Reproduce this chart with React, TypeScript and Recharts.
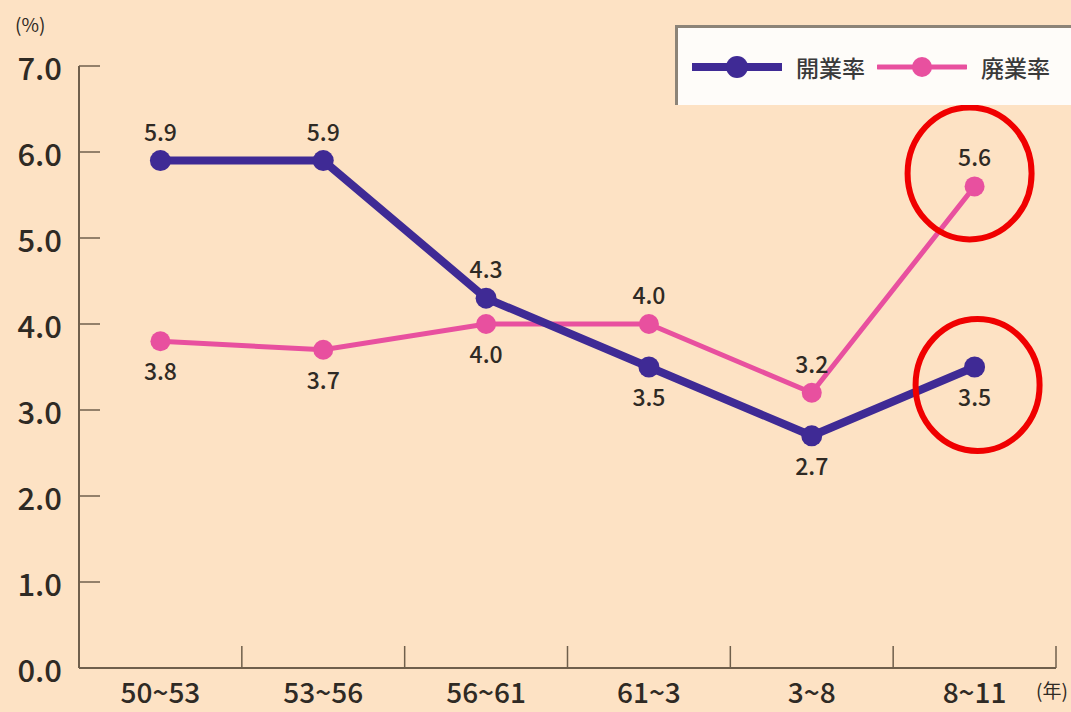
import { LineChart, Line, XAxis, YAxis, ReferenceDot } from 'recharts'

const periods = ['50~53', '53~56', '56~61', '61~3', '3~8', '8~11']
const openRate = [5.9, 5.9, 4.3, 3.5, 2.7, 3.5]
const closeRate = [3.8, 3.7, 4.0, 4.0, 3.2, 5.6]
const yTicks = [0, 1, 2, 3, 4, 5, 6, 7]
// true = value label sits above the point
const openAbove = [true, true, true, false, false, false]
const closeAbove = [false, false, false, true, true, true]

const data = periods.map((p, i) => ({ period: p, open: openRate[i], close: closeRate[i] }))

const W = 1071
const H = 712
const M = { top: 66, right: 15, left: 0, bottom: 0 }
const Y_W = 79
const X_H = 44
const BAND = (W - Y_W - M.right) / periods.length

const BG = '#fde2c4'
const AXIS = '#6f5f4c'
const PURPLE = '#3f2a95'
const PINK = '#e8509f'
const TEXT = '#2f2a24'
const FONT = '"Noto Sans CJK JP", "Noto Sans", sans-serif'

function YTick({ x, y, payload }: any) {
  return (
    <g>
      <line x1={x + 17} x2={x + 38} y1={y} y2={y} stroke={AXIS} strokeWidth={1.5} />
      <text x={x} y={y} textAnchor="end" dominantBaseline="central" fill={TEXT} fontSize={31} fontFamily={FONT} fontWeight={500}>
        {payload.value.toFixed(1)}
      </text>
    </g>
  )
}

function XTick({ x, y, payload }: any) {
  const axisY = y - 18
  return (
    <g>
      <line x1={x + BAND / 2} x2={x + BAND / 2} y1={axisY} y2={axisY - 22} stroke={AXIS} strokeWidth={1.5} />
      <text x={x} y={y + 5} textAnchor="middle" dominantBaseline="central" fill={TEXT} fontSize={28} fontFamily={FONT} fontWeight={500}>
        {payload.value}
      </text>
    </g>
  )
}

const valueLabel = (above: boolean[]) => (props: any) => {
  const { x, y, value, index } = props
  const dy = above[index] ? -30 : 29
  return (
    <text x={x} y={y + dy} textAnchor="middle" dominantBaseline="central" fill={TEXT} fontSize={23} fontFamily={FONT} fontWeight={500}>
      {Number(value).toFixed(1)}
    </text>
  )
}

const ring = (dx: number, dy: number) => (props: any) => (
  <ellipse cx={props.cx + dx} cy={props.cy + dy} rx={62} ry={66} fill="none" stroke="#f00000" strokeWidth={6} />
)

function LegendBox() {
  const item = (color: string, width: number, r: number, label: string) => (
    <div style={{ display: 'flex', alignItems: 'center', marginRight: 12 }}>
      <svg width={90} height={24}>
        <line x1={1} x2={89} y1={12} y2={12} stroke={color} strokeWidth={width} strokeLinecap="round" />
        <circle cx={45} cy={12} r={r} fill={color} />
      </svg>
      <span style={{ marginLeft: 14, fontSize: 23, color: '#3a3a3a', fontFamily: FONT, fontWeight: 500 }}>{label}</span>
    </div>
  )
  return (
    <div
      style={{
        position: 'absolute',
        left: 675,
        top: 25,
        width: 420,
        height: 80,
        boxSizing: 'border-box',
        background: '#fefcf9',
        borderTop: '3px solid #8c8478',
        borderLeft: '3px solid #8c8478',
        display: 'flex',
        alignItems: 'center',
        paddingLeft: 14,
      }}
    >
      {item(PURPLE, 8, 11, '開業率')}
      {item(PINK, 5, 10, '廃業率')}
    </div>
  )
}

export default function App() {
  return (
    <div style={{ width: W, height: H, background: BG, position: 'relative', overflow: 'hidden' }}>
      <style>{'body{margin:0}'}</style>
      <LineChart width={W} height={H} data={data} margin={M}>
        <XAxis
          dataKey="period"
          scale="band"
          height={X_H}
          axisLine={{ stroke: AXIS, strokeWidth: 2 }}
          tickLine={false}
          tickSize={0}
          tickMargin={18}
          interval={0}
          tick={<XTick />}
        />
        <YAxis
          domain={[0, 7]}
          ticks={yTicks}
          interval={0}
          width={Y_W}
          axisLine={{ stroke: AXIS, strokeWidth: 2 }}
          tickLine={false}
          tickSize={0}
          tickMargin={17}
          tick={<YTick />}
        />
        <Line
          dataKey="close"
          name="廃業率"
          stroke={PINK}
          strokeWidth={5}
          dot={{ r: 10, fill: PINK, stroke: PINK, strokeWidth: 0 }}
          label={valueLabel(closeAbove)}
          isAnimationActive={false}
        />
        <Line
          dataKey="open"
          name="開業率"
          stroke={PURPLE}
          strokeWidth={8}
          dot={{ r: 10.5, fill: PURPLE, stroke: PURPLE, strokeWidth: 0 }}
          label={valueLabel(openAbove)}
          isAnimationActive={false}
        />
        <ReferenceDot x="8~11" y={5.6} ifOverflow="visible" shape={ring(-5, -13)} />
        <ReferenceDot x="8~11" y={3.5} ifOverflow="visible" shape={ring(3, 18)} />
        <text x={15} y={32} fill={TEXT} fontSize={19} fontFamily={FONT}>(%)</text>
        <text x={1036} y={698} fill={TEXT} fontSize={19} fontFamily={FONT}>(年)</text>
      </LineChart>
      <LegendBox />
    </div>
  )
}
